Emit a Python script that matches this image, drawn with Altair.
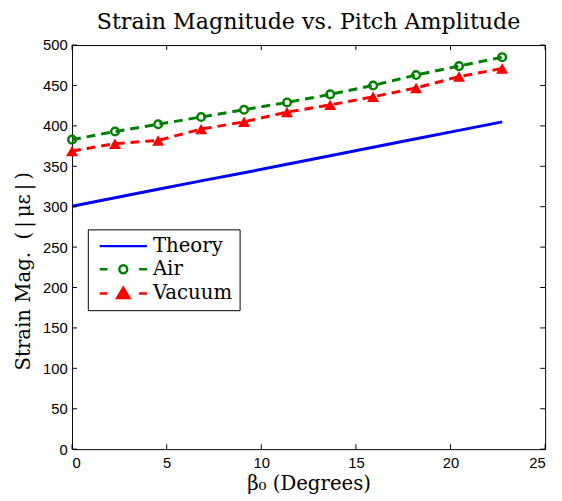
import altair as alt
import pandas as pd

# ---- data ----
beta = [0.0, 2.27, 4.55, 6.82, 9.09, 11.36, 13.64, 15.91, 18.18, 20.45, 22.73]
theory = [300.5, 311, 321.5, 332, 342, 352.5, 363, 373.5, 384, 394.5, 405]
air = [383, 393, 402, 411, 420, 429, 439, 450, 463, 474, 485]
vacuum = [369, 378, 382, 396, 405, 417, 426, 436, 447, 461, 471]

series_names = ["Theory", "Air", "Vacuum"]
series_colors = ["#0000ff", "#008000", "#ff0000"]
x_ticks = [0, 5, 10, 15, 20, 25]
y_ticks = [0, 50, 100, 150, 200, 250, 300, 350, 400, 450, 500]

W, H = 480, 410

df = pd.DataFrame({"beta": beta, "theory": theory, "air": air, "vacuum": vacuum})
xt = pd.DataFrame({"v": x_ticks})
yt = pd.DataFrame({"v": y_ticks})
leg = pd.DataFrame({"series": series_names})

xscale = alt.Scale(domain=[0, 25], nice=False, zero=False)
yscale = alt.Scale(domain=[0, 500], nice=False)

X = alt.X("beta:Q", scale=xscale,
          axis=alt.Axis(values=x_ticks, title="β₀ (Degrees)", format="d"))
base = alt.Chart(df)

ytitle = "Strain Mag.\u00a0\u00a0(\u2009|\u2009με\u2009|\u2009)"

theory_line = base.mark_line(color="#0000ff", strokeWidth=3).encode(
    x=X,
    y=alt.Y("theory:Q", scale=yscale,
            axis=alt.Axis(values=y_ticks, title=ytitle, titleY=229)))

air_line = base.mark_line(color="#008000", strokeWidth=3, strokeDash=[9, 6]).encode(
    x="beta:Q", y="air:Q")
air_pts = base.mark_point(shape="circle", filled=False, color="#008000",
                          strokeWidth=2.5, size=60, opacity=1).encode(
    x="beta:Q", y="air:Q")

vac_line = base.mark_line(color="#ff0000", strokeWidth=3, strokeDash=[9, 6]).encode(
    x="beta:Q", y="vacuum:Q")
vac_pts = base.mark_point(shape="triangle-up", filled=True, color="#ff0000",
                          size=150, opacity=1).encode(
    x="beta:Q", y="vacuum:Q")

# inward ticks on all four sides
tick_style = dict(color="black", strokeWidth=1)
xb = alt.Chart(xt).mark_rule(**tick_style).encode(
    x=alt.X("v:Q", scale=xscale), y=alt.value(H), y2=alt.value(H - 5))
xtp = alt.Chart(xt).mark_rule(**tick_style).encode(
    x=alt.X("v:Q", scale=xscale), y=alt.value(0), y2=alt.value(5))
yl = alt.Chart(yt).mark_rule(**tick_style).encode(
    y=alt.Y("v:Q", scale=yscale), x=alt.value(0), x2=alt.value(5))
yr = alt.Chart(yt).mark_rule(**tick_style).encode(
    y=alt.Y("v:Q", scale=yscale), x=alt.value(W), x2=alt.value(W - 5))

# legend layer (no visible marks, only the legend); symbols are custom paths
# drawn at size 100 (5 px per path unit), spanning 48 px
p_theory = "M-4.8,0L4.8,0"
p_air = ("M-4.8,0L-3.2,0M3.2,0L4.8,0"
         "M0.8,0A0.8,0.8,0,1,1,-0.8,0A0.8,0.8,0,1,1,0.8,0Z")
p_vac = "M-4.8,0L-3.2,0M3.2,0L4.8,0M0,-1.15L1.25,0.95L-1.25,0.95Z"

legend_layer = alt.Chart(leg).mark_point(size=100, opacity=1, strokeWidth=2.5).encode(
    stroke=alt.Stroke("series:N", scale=alt.Scale(domain=series_names, range=series_colors),
                      legend=alt.Legend(title=None)),
    fill=alt.Fill("series:N", scale=alt.Scale(domain=series_names,
                                              range=["white", "white", "#ff0000"]),
                  legend=alt.Legend(title=None)),
    shape=alt.Shape("series:N", scale=alt.Scale(domain=series_names,
                                                range=[p_theory, p_air, p_vac]),
                    legend=alt.Legend(title=None)),
).transform_filter("false")

chart = alt.layer(
    theory_line, air_line, vac_line, air_pts, vac_pts,
    xb, xtp, yl, yr, legend_layer
).properties(
    width=W, height=H,
    title=alt.TitleParams("Strain Magnitude vs. Pitch Amplitude",
                          font="DejaVu Serif", fontSize=22.5, fontWeight="normal",
                          color="black", offset=5),
    autosize=alt.AutoSizeParams(type="none"),
    padding={"left": 65, "top": 34, "right": 9, "bottom": 49},
).configure_view(
    stroke="black", strokeWidth=1
).configure_axis(
    grid=False, ticks=False, domain=False,
    labelFont="Liberation Sans", labelFontSize=15, labelColor="black",
    titleFont="DejaVu Serif", titleFontSize=20, titleFontWeight="normal",
    titleColor="black",
).configure_axisX(
    titlePadding=3, labelPadding=7,
).configure_axisY(
    titlePadding=9, labelPadding=5,
).configure_legend(
    orient="none", legendX=16, legendY=187,
    fillColor="white", strokeColor="black", padding=7,
    labelFont="DejaVu Serif", labelFontSize=20, labelColor="black",
    labelOffset=20, labelBaseline="middle",
    symbolStrokeWidth=2.5, symbolSize=100, symbolOffset=19, rowPadding=3.5,
    cornerRadius=0,
)

chart.save("out.html", embed_options={"renderer": "svg", "actions": False})
